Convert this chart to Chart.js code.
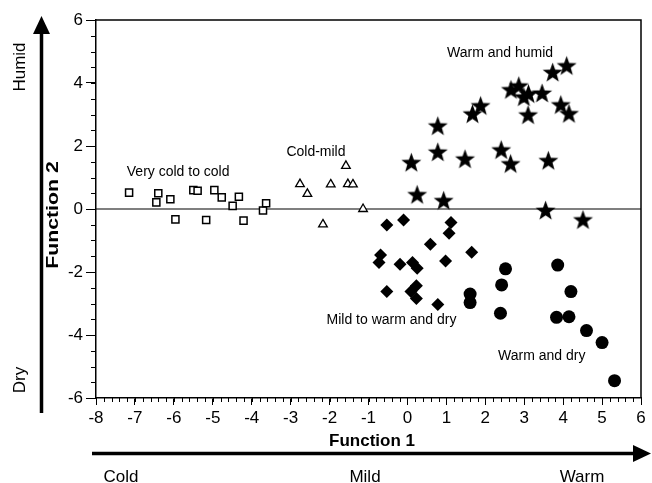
<!DOCTYPE html>
<html>
<head>
<meta charset="utf-8">
<script src="https://cdn.jsdelivr.net/npm/chart.js@4.4.1/dist/chart.umd.min.js"></script>
<style>
  html, body { margin: 0; padding: 0; background: #fff; }
</style>
</head>
<body>
<canvas id="myChart" width="652" height="483"></canvas>
<script>
// climate groups, discriminant function scores
const squaresX = [-7.15, -6.4, -6.45, -6.09, -5.96, -5.5, -5.39, -5.17, -4.96, -4.77, -4.49, -4.33, -4.21, -3.71, -3.63];
const squaresY = [0.52, 0.5, 0.21, 0.31, -0.33, 0.6, 0.58, -0.35, 0.6, 0.37, 0.1, 0.39, -0.37, -0.05, 0.18];

const trianglesX = [-2.76, -2.57, -1.97, -2.17, -1.58, -1.53, -1.4, -1.14];
const trianglesY = [0.79, 0.48, 0.78, -0.49, 1.37, 0.79, 0.78, 0.0];

const diamondsX = [-0.53, -0.1, 1.12, 1.07, 0.59, 1.65, -0.69, -0.73, -0.19, 0.13, 0.25, 0.98, -0.53, 0.09, 0.23, 0.23, 0.78];
const diamondsY = [-0.51, -0.35, -0.43, -0.77, -1.12, -1.37, -1.46, -1.7, -1.75, -1.7, -1.88, -1.65, -2.62, -2.62, -2.44, -2.84, -3.03];

const starsX = [4.09, 3.73, 2.66, 2.86, 2.99, 3.11, 3.46, 3.94, 4.15, 3.1, 1.67, 1.88, 0.78, 0.78, 0.1, 1.48, 2.41, 2.65, 3.62, 0.25, 0.93, 3.55, 4.51];
const starsY = [4.54, 4.33, 3.78, 3.9, 3.55, 3.65, 3.67, 3.3, 3.02, 2.98, 3.01, 3.27, 2.63, 1.8, 1.47, 1.58, 1.87, 1.43, 1.53, 0.45, 0.26, -0.05, -0.35];

const circlesX = [2.52, 2.42, 1.61, 1.61, 2.39, 3.86, 4.2, 3.83, 4.15, 4.6, 5.0, 5.32];
const circlesY = [-1.9, -2.41, -2.7, -2.97, -3.31, -1.78, -2.62, -3.44, -3.42, -3.86, -4.24, -5.45];

// group labels placed in data units
const groupLabels = ['Very cold to cold', 'Cold-mild', 'Warm and humid', 'Mild to warm and dry', 'Warm and dry'];
const groupLabelX = [-5.89, -2.35, 2.38, -0.41, 3.45];
const groupLabelY = [1.17, 1.81, 4.95, -3.52, -4.67];

const FONT = '"Liberation Sans", Arial, sans-serif';

function pts(xs, ys) {
  return xs.map((x, i) => ({ x: x, y: ys[i] }));
}

function makeStar(outer, inner) {
  const c = document.createElement('canvas');
  const s = Math.ceil(outer * 2) + 2;
  c.width = s;
  c.height = s;
  const g = c.getContext('2d');
  g.fillStyle = '#000';
  g.beginPath();
  for (let i = 0; i < 10; i++) {
    const r = i % 2 === 0 ? outer : inner;
    const a = -Math.PI / 2 + i * Math.PI / 5;
    g.lineTo(s / 2 + r * Math.cos(a), s / 2 + 0.5 + r * Math.sin(a));
  }
  g.closePath();
  g.fill();
  return c;
}

const extras = {
  id: 'extras',
  beforeDatasetsDraw(chart) {
    const { ctx, chartArea: a } = chart;
    const y0 = chart.scales.y.getPixelForValue(0);
    ctx.save();
    ctx.strokeStyle = '#000';
    ctx.lineWidth = 1.2;
    ctx.beginPath();
    ctx.moveTo(a.left, y0);
    ctx.lineTo(a.right, y0);
    ctx.stroke();
    ctx.lineWidth = 1.5;
    ctx.beginPath();
    ctx.moveTo(a.left, a.top);
    ctx.lineTo(a.right, a.top);
    ctx.lineTo(a.right, a.bottom);
    ctx.stroke();
    ctx.restore();
  },
  afterDraw(chart) {
    const { ctx, chartArea: a } = chart;
    const xs = chart.scales.x, ys = chart.scales.y;
    ctx.save();
    ctx.strokeStyle = '#000';
    ctx.fillStyle = '#000';

    // minor ticks
    ctx.lineWidth = 1;
    ctx.beginPath();
    for (let v = -8; v <= 6.001; v += 0.2) {
      const px = Math.round(xs.getPixelForValue(v)) + 0.5;
      ctx.moveTo(px, a.bottom);
      ctx.lineTo(px, a.bottom + 4);
    }
    for (let v = -6; v <= 6.001; v += 0.5) {
      const py = Math.round(ys.getPixelForValue(v)) + 0.5;
      ctx.moveTo(a.left, py);
      ctx.lineTo(a.left - 5, py);
    }
    ctx.stroke();

    // group labels
    ctx.font = '14px ' + FONT;
    ctx.textAlign = 'center';
    ctx.textBaseline = 'middle';
    groupLabels.forEach((t, i) => {
      ctx.fillText(t, xs.getPixelForValue(groupLabelX[i]), ys.getPixelForValue(groupLabelY[i]));
    });

    // left arrow (Dry -> Humid)
    ctx.lineWidth = 3.5;
    ctx.beginPath();
    ctx.moveTo(41.5, 413);
    ctx.lineTo(41.5, 30);
    ctx.stroke();
    ctx.beginPath();
    ctx.moveTo(41.5, 16);
    ctx.lineTo(33, 34);
    ctx.lineTo(50, 34);
    ctx.closePath();
    ctx.fill();

    // bottom arrow (Cold -> Warm)
    ctx.beginPath();
    ctx.moveTo(92, 453.5);
    ctx.lineTo(636, 453.5);
    ctx.stroke();
    ctx.beginPath();
    ctx.moveTo(651, 453.5);
    ctx.lineTo(633, 445);
    ctx.lineTo(633, 462);
    ctx.closePath();
    ctx.fill();

    // axis titles
    ctx.textBaseline = 'alphabetic';
    ctx.font = 'bold 17px ' + FONT;
    ctx.fillText('Function 1', 372, 446);
    ctx.font = '17px ' + FONT;
    ctx.fillText('Cold', 121, 482);
    ctx.fillText('Mild', 365, 482);
    ctx.fillText('Warm', 582, 482);

    const vtext = (t, x, y, font, stretch) => {
      ctx.save();
      ctx.translate(x, y);
      ctx.rotate(-Math.PI / 2);
      ctx.scale(stretch || 1, 1);
      ctx.font = font;
      ctx.fillText(t, 0, 0);
      ctx.restore();
    };
    vtext('Humid', 25, 67, '17px ' + FONT);
    vtext('Dry', 25, 380, '17px ' + FONT);
    vtext('Function 2', 58, 215, 'bold 17px ' + FONT, 1.25);
    ctx.restore();
  }
};

const ctx = document.getElementById('myChart');

new Chart(ctx, {
  type: 'scatter',
  data: {
    datasets: [
      {
        label: 'Very cold to cold',
        data: pts(squaresX, squaresY),
        pointStyle: 'rect',
        pointRadius: 5,
        backgroundColor: '#fff',
        borderColor: '#000',
        borderWidth: 1.5
      },
      {
        label: 'Cold-mild',
        data: pts(trianglesX, trianglesY),
        pointStyle: 'triangle',
        pointRadius: 5,
        backgroundColor: '#fff',
        borderColor: '#000',
        borderWidth: 1.3
      },
      {
        label: 'Mild to warm and dry',
        data: pts(diamondsX, diamondsY),
        pointStyle: 'rectRot',
        pointRadius: 6.5,
        backgroundColor: '#000',
        borderColor: '#000',
        borderWidth: 0
      },
      {
        label: 'Warm and humid',
        data: pts(starsX, starsY),
        pointStyle: makeStar(10.5, 4.3),
        pointRadius: 10
      },
      {
        label: 'Warm and dry',
        data: pts(circlesX, circlesY),
        pointStyle: 'circle',
        pointRadius: 6.5,
        backgroundColor: '#000',
        borderColor: '#000',
        borderWidth: 0
      }
    ]
  },
  options: {
    responsive: false,
    animation: false,
    layout: { padding: { left: 0, right: 7, top: 20, bottom: 0 } },
    plugins: {
      legend: { display: false },
      tooltip: { enabled: false }
    },
    scales: {
      x: {
        type: 'linear',
        min: -8,
        max: 6,
        afterFit: (s) => { s.height = 85; },
        ticks: {
          stepSize: 1,
          color: '#000',
          padding: 3,
          maxRotation: 0,
          font: { family: FONT, size: 17 }
        },
        grid: { drawOnChartArea: false, tickLength: 7, color: '#000', tickWidth: 1 },
        border: { color: '#000', width: 1.5 }
      },
      y: {
        type: 'linear',
        min: -6,
        max: 6,
        afterFit: (s) => { s.width = 96; },
        ticks: {
          stepSize: 2,
          color: '#000',
          padding: 3,
          font: { family: FONT, size: 17 }
        },
        grid: { drawOnChartArea: false, tickLength: 10, color: '#000', tickWidth: 1 },
        border: { color: '#000', width: 1.5 }
      }
    }
  },
  plugins: [extras]
});
</script>
</body>
</html>
